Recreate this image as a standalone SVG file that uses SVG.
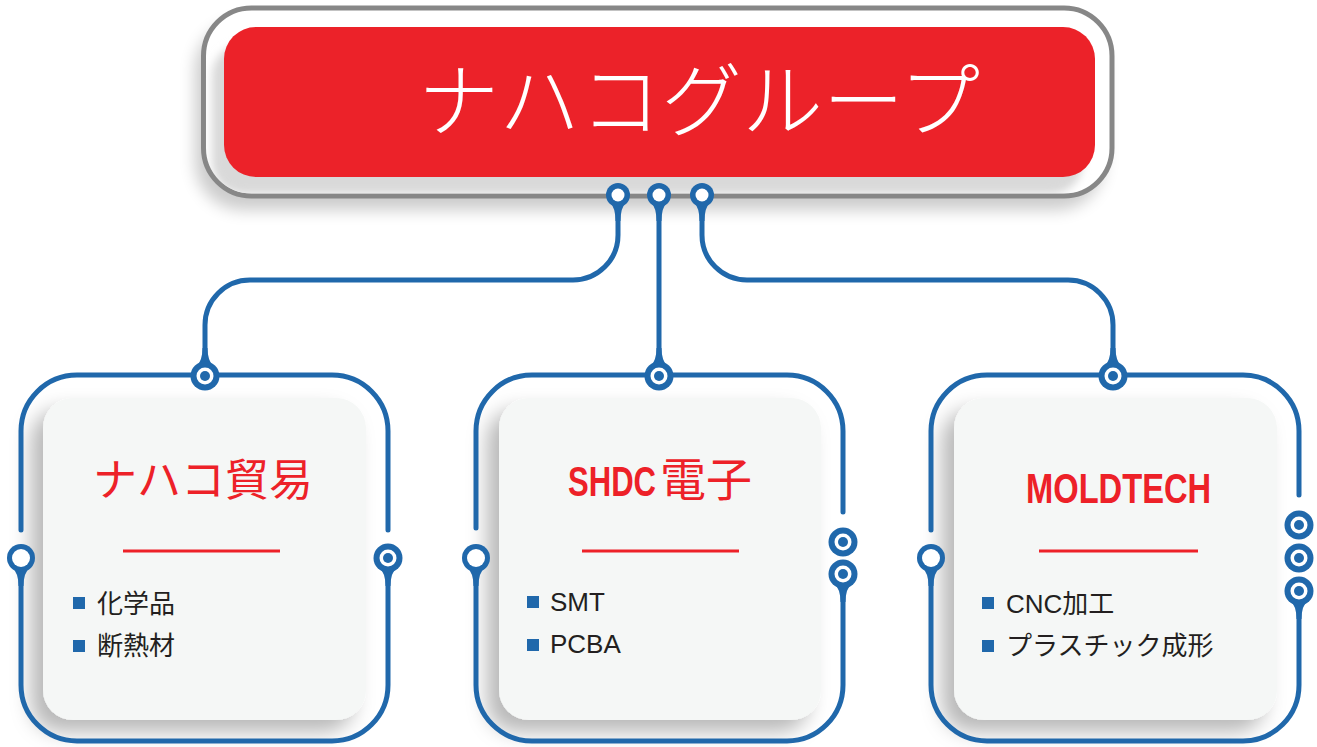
<svg xmlns="http://www.w3.org/2000/svg" width="1317" height="747" viewBox="0 0 1317 747">
<defs>
<style>
.ln{fill:none;stroke:#2068AB;stroke-width:5;stroke-linecap:round}
.b{fill:#2068AB}
.w{fill:#fff}
.panel{fill:#F5F7F6}
.ttl{font-family:'Noto Sans CJK JP',sans-serif;fill:#ED2128;text-anchor:middle}
.en{font-family:'Liberation Sans',Arial,sans-serif;font-weight:bold;fill:#ED2128}
.cj{font-family:'Noto Sans CJK JP',sans-serif;fill:#ED2128}
.it{font-family:'Liberation Sans','Noto Sans CJK JP',sans-serif;font-size:26px;fill:#231F20}
.rl{stroke:#ED2128;stroke-width:3}
.sq{fill:#2068AB}
</style>
<filter id="blur8" x="-20%" y="-40%" width="140%" height="180%"><feGaussianBlur stdDeviation="8"/></filter>
<filter id="blur4" x="-10%" y="-20%" width="120%" height="140%"><feGaussianBlur stdDeviation="4"/></filter>
<filter id="pshadow" x="-25%" y="-25%" width="150%" height="150%"><feDropShadow dx="-12" dy="12" stdDeviation="10" flood-color="#000" flood-opacity="0.28"/></filter>
<clipPath id="tclip"><rect x="205.5" y="10.5" width="904" height="183" rx="46"/></clipPath>
<g id="tpin"><path class="b" d="M-8 7Q-2.5 13 -2.5 26H2.5Q2.5 13 8 7Z"/><circle class="b" r="12"/><circle class="w" r="6.5"/></g>
<g id="hollowDown"><path class="b" d="M-9 9Q-2.5 15 -2.5 28H2.5Q2.5 15 9 9Z"/><circle class="b" r="14"/><circle class="w" r="9"/></g>
<g id="ring"><circle class="b" r="14.5"/><circle class="w" r="8.5"/><circle class="b" r="5"/></g>
<g id="ringDown"><path class="b" d="M-9 9Q-2.5 15 -2.5 28H2.5Q2.5 15 9 9Z"/><use href="#ring"/></g>
</defs>

<g id="title">
<rect x="195" y="22" width="909" height="188" rx="48" fill="#000" opacity="0.2" filter="url(#blur8)"/>
<rect x="203.5" y="8" width="908.5" height="188" rx="48" fill="#fff" stroke="#878787" stroke-width="5"/>
<g clip-path="url(#tclip)"><rect x="212" y="44" width="871" height="150" rx="32" fill="#d9d9d9" filter="url(#blur4)"/></g>
<rect x="224" y="27" width="871" height="150" rx="32" fill="#EC2229"/>
<text x="699" y="130" font-family="'Noto Sans CJK JP',sans-serif" font-weight="300" font-size="81" fill="#fff" text-anchor="middle">ナハコグループ</text>
</g>

<g id="connectors">
<path class="ln" d="M618 205V235A45 45 0 0 1 573 280H250A45 45 0 0 0 205 325V370"/>
<path class="ln" d="M659 205V370"/>
<path class="ln" d="M702 205V235A45 45 0 0 0 747 280H1068A45 45 0 0 1 1113 325V370"/>
<use href="#tpin" x="618" y="195"/>
<use href="#tpin" x="659" y="195"/>
<use href="#tpin" x="702" y="195"/>
</g>

<g id="card-trade">
<rect class="panel" x="43" y="398" width="323" height="322" rx="30" filter="url(#pshadow)"/>
<path class="ln" d="M21 530V431A56 56 0 0 1 77 375H332A56 56 0 0 1 388 431V530"/>
<path class="ln" d="M388 572V685A56 56 0 0 1 332 741H77A56 56 0 0 1 21 685V572"/>
<use href="#ringDown" transform="translate(205 376) rotate(180)"/>
<use href="#hollowDown" x="21" y="558"/>
<use href="#ringDown" x="388" y="558"/>
<text class="ttl" x="203" y="496" font-size="44">ナハコ貿易</text>
<line class="rl" x1="123" y1="551" x2="280" y2="551"/>
<rect class="sq" x="73" y="597" width="12" height="12"/>
<rect class="sq" x="73" y="640" width="12" height="12"/>
<text class="it" x="97" y="613">化学品</text>
<text class="it" x="97" y="655">断熱材</text>
</g>

<g id="card-shdc">
<rect class="panel" x="499" y="398" width="322" height="322" rx="30" filter="url(#pshadow)"/>
<path class="ln" d="M476 528V431A56 56 0 0 1 532 375H787A56 56 0 0 1 843 431V512"/>
<path class="ln" d="M843 590V685A56 56 0 0 1 787 741H532A56 56 0 0 1 476 685V572"/>
<use href="#ringDown" transform="translate(659 376) rotate(180)"/>
<use href="#hollowDown" x="476" y="558"/>
<use href="#ring" x="843" y="542"/>
<use href="#ringDown" x="843" y="574"/>
<text class="en" transform="translate(568 496) scale(0.74 1)" font-size="42">SHDC</text>
<text class="cj" x="660" y="496" font-size="46">電子</text>
<line class="rl" x1="582" y1="551" x2="739" y2="551"/>
<rect class="sq" x="527" y="596" width="12" height="12"/>
<rect class="sq" x="527" y="639" width="12" height="12"/>
<text class="it" x="550" y="611">SMT</text>
<text class="it" x="550" y="653">PCBA</text>
</g>

<g id="card-moldtech">
<rect class="panel" x="954" y="398" width="323" height="322" rx="30" filter="url(#pshadow)"/>
<path class="ln" d="M931 530V431A56 56 0 0 1 987 375H1243A56 56 0 0 1 1299 431V495"/>
<path class="ln" d="M1299 605V685A56 56 0 0 1 1243 741H987A56 56 0 0 1 931 685V572"/>
<use href="#ringDown" transform="translate(1113 376) rotate(180)"/>
<use href="#hollowDown" x="931" y="558"/>
<use href="#ring" x="1299" y="525"/>
<use href="#ring" x="1299" y="558"/>
<use href="#ringDown" x="1299" y="591"/>
<text class="en" transform="translate(1026 503) scale(0.76 1)" font-size="43">MOLDTECH</text>
<line class="rl" x1="1039" y1="551" x2="1198" y2="551"/>
<rect class="sq" x="982" y="597" width="12" height="12"/>
<rect class="sq" x="982" y="640" width="12" height="12"/>
<text class="it" x="1006" y="613">CNC加工</text>
<text class="it" x="1006" y="655">プラスチック成形</text>
</g>
</svg>
